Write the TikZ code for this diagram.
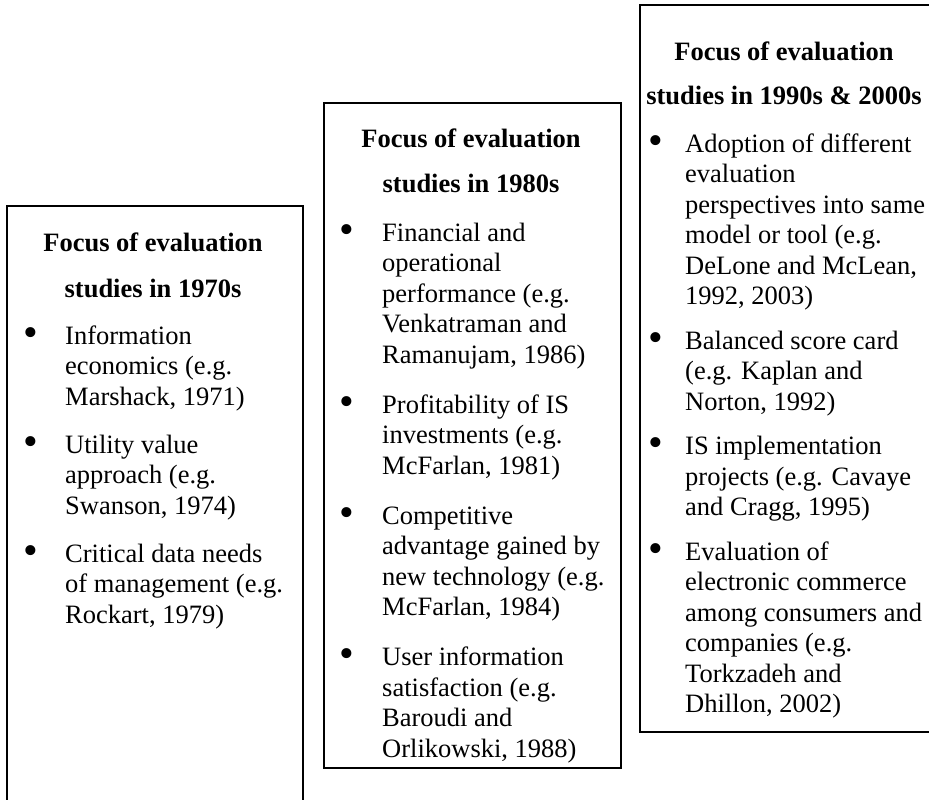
\documentclass[tikz,border=0pt]{standalone}
\usepackage{fontspec}
\setmainfont{Liberation Serif}
% a block of manually broken lines whose reference point is the first baseline
\newcommand\paralines[1]{\parbox[t]{270pt}{\raggedright #1}}
\begin{document}
\begin{tikzpicture}[x=1pt,y=-1pt,
  panel/.style={draw=black, line width=1.3pt},
  bodyfont/.style={font=\fontsize{26.5pt}{30.5pt}\selectfont},
  heading/.style={anchor=base, inner sep=0pt, font=\fontsize{26.5pt}{30.5pt}\selectfont\bfseries},
  dot/.style={anchor=base, inner sep=0pt, font=\fontsize{42pt}{42pt}\selectfont},
  entry/.style={bodyfont, anchor=base west, inner sep=0pt}]
\clip (0,0) rectangle (929,800);
\fill[white] (0,0) rectangle (929,800);

% ---- 1970s ----
\draw[panel] (7,840) -- (7,206) -- (303,206) -- (303,840);
\node[heading] (h1a) at (153,251) {Focus of evaluation};
\node[heading] (h1b) at (153,297) {studies in 1970s};
\node[dot] (d11) at (31,346) {•};
\node[entry] (e11) at (65,344) {\paralines{Information\\economics (e.g.\\Marshack, 1971)}};
\node[dot] (d12) at (31,455) {•};
\node[entry] (e12) at (65,453) {\paralines{Utility value\\approach (e.g.\\Swanson, 1974)}};
\node[dot] (d13) at (31,564) {•};
\node[entry] (e13) at (65,562) {\paralines{Critical data needs\\of management (e.g.\\Rockart, 1979)}};

% ---- 1980s ----
\draw[panel] (324,103) rectangle (621,768);
\node[heading] (h2a) at (471,147) {Focus of evaluation};
\node[heading] (h2b) at (471,192) {studies in 1980s};
\node[dot] (d21) at (347,243) {•};
\node[entry] (e21) at (382,241) {\paralines{Financial and\\operational\\performance (e.g.\\Venkatraman and\\Ramanujam, 1986)}};
\node[dot] (d22) at (347,415) {•};
\node[entry] (e22) at (382,413) {\paralines{Profitability of IS\\investments (e.g.\\McFarlan, 1981)}};
\node[dot] (d23) at (347,526) {•};
\node[entry] (e23) at (382,524) {\paralines{Competitive\\advantage gained by\\new technology (e.g.\\McFarlan, 1984)}};
\node[dot] (d24) at (347,667.5) {•};
\node[entry] (e24) at (382,665.5) {\paralines{User information\\satisfaction (e.g.\\Baroudi and\\Orlikowski, 1988)}};

% ---- 1990s & 2000s ----
\draw[panel] (640,732) -- (640,5) -- (940,5) -- (940,732) -- cycle;
\node[heading] (h3a) at (784,60) {Focus of evaluation};
\node[heading] (h3b) at (784,104) {studies in 1990s \& 2000s};
\node[dot] (d31) at (656,154) {•};
\node[entry] (e31) at (685,152) {\paralines{Adoption of different\\evaluation\\perspectives into same\\model or tool (e.g.\\DeLone and McLean,\\1992, 2003)}};
\node[dot] (d32) at (656,351) {•};
\node[entry] (e32) at (685,349) {\paralines{Balanced score card\\(e.g. Kaplan and\\Norton, 1992)}};
\node[dot] (d33) at (656,456.5) {•};
\node[entry] (e33) at (685,454.5) {\paralines{IS implementation\\projects (e.g. Cavaye\\and Cragg, 1995)}};
\node[dot] (d34) at (656,562) {•};
\node[entry] (e34) at (685,560) {\paralines{Evaluation of\\electronic commerce\\among consumers and\\companies (e.g.\\Torkzadeh and\\Dhillon, 2002)}};
\end{tikzpicture}
\end{document}
